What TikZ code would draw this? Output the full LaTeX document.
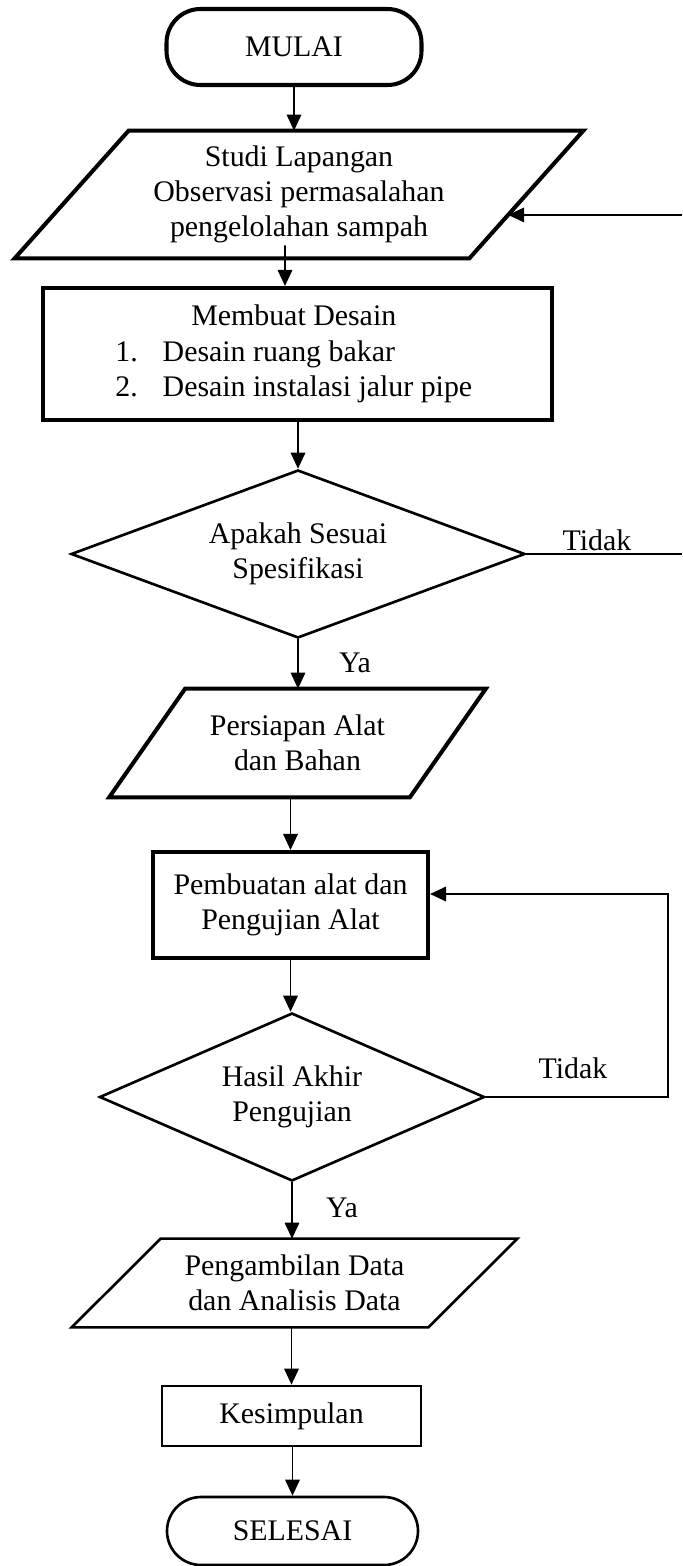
\documentclass[tikz,border=0pt]{standalone}
\usepackage{fontspec}
\setmainfont{Liberation Serif}
\usepackage{tikz}
\usetikzlibrary{shapes.geometric, arrows.meta, positioning, calc}
\tikzset{
  terminal/.style={rectangle, draw, rounded corners=0.68cm, align=center},
  process/.style={rectangle, draw, align=center},
  iotext/.style={rectangle, align=center},
  decision/.style={diamond, draw, line width=1.5pt, align=center, inner sep=1pt},
  thickline/.style={line width=2.3pt},
  thinline/.style={line width=1.5pt},
  lbl/.style={inner sep=1pt},
  arrow/.style={-{Triangle[length=0.32cm, width=0.29cm]}, line width=1pt},
  line/.style={draw, line width=1pt}
}

\begin{document}
\begin{tikzpicture}[font=\fontsize{17}{20}\selectfont]
  \useasboundingbox (0,0) rectangle (13.64,-31.32);

  % Nodes
  \node[terminal, thickline, minimum width=5.10cm, minimum height=1.52cm] (mulai) at (5.88,-0.94) {MULAI};

  \node[iotext, minimum width=9.08cm, minimum height=2.54cm] (studi) at (5.98,-3.89) {
    Studi Lapangan\\
    Observasi permasalahan\\
    pengelolahan sampah
  };

  \node[process, thickline, minimum width=10.18cm, minimum height=2.64cm] (desain) at (5.95,-7.08) {
    \begin{tabular}{@{}l@{\hspace{0.5cm}}l@{}}
      \multicolumn{2}{c}{Membuat Desain}\\
      1. & Desain ruang bakar\\
      2. & Desain instalasi jalur pipe
    \end{tabular}
  };

  \node[decision, aspect=2.7, minimum width=9.08cm, minimum height=3.36cm] (cek1) at (5.96,-11.08) {Apakah Sesuai\\Spesifikasi};

  \node[iotext, minimum width=6.00cm, minimum height=2.16cm] (persiapan) at (5.95,-14.86) {
    Persiapan Alat\\
    dan Bahan
  };

  \node[process, thickline, minimum width=5.50cm, minimum height=2.12cm] (pembuatan) at (5.81,-18.10) {
    Pembuatan alat dan\\
    Pengujian Alat
  };

  \node[decision, aspect=2.3, minimum width=7.70cm, minimum height=3.36cm] (cek2) at (5.84,-21.94) {Hasil Akhir\\Pengujian};

  \node[iotext, minimum width=7.12cm, minimum height=1.76cm] (pengambilan) at (5.89,-25.66) {
    Pengambilan Data\\
    dan Analisis Data
  };

  \node[process, thinline, minimum width=5.18cm, minimum height=1.20cm] (kesimpulan) at (5.83,-28.32) {Kesimpulan};

  \node[terminal, thinline, minimum width=5.02cm, minimum height=1.36cm] (selesai) at (5.85,-30.62) {SELESAI};

  % Parallelogram outlines
  \draw[thickline] ([xshift=-1.14cm]studi.south west) -- ([xshift=1.14cm]studi.north west) -- ([xshift=1.14cm]studi.north east) -- ([xshift=-1.14cm]studi.south east) -- cycle;
  \draw[thickline] ([xshift=-0.76cm]persiapan.south west) -- ([xshift=0.76cm]persiapan.north west) -- ([xshift=0.76cm]persiapan.north east) -- ([xshift=-0.76cm]persiapan.south east) -- cycle;
  \draw[thinline] ([xshift=-0.89cm]pengambilan.south west) -- ([xshift=0.89cm]pengambilan.north west) -- ([xshift=0.89cm]pengambilan.north east) -- ([xshift=-0.89cm]pengambilan.south east) -- cycle;

  % Labels
  \node[lbl] (tidak1) at (11.94,-10.80) {Tidak};
  \node[lbl] (ya1) at (7.10,-13.26) {Ya};
  \node[lbl] (tidak2) at (11.46,-21.36) {Tidak};
  \node[lbl] (ya2) at (6.84,-24.16) {Ya};

  % Main flow
  \draw[arrow] (mulai.south) -- (mulai.south |- studi.north);
  \draw[arrow] ([xshift=-0.28cm, yshift=0.26cm]studi.south) -- ([xshift=-0.25cm]desain.north);
  \draw[arrow] (cek1.north |- desain.south) -- (cek1.north);
  \draw[arrow] (cek1.south) -- (cek1.south |- persiapan.north);
  \draw[arrow] (pembuatan.north |- persiapan.south) -- (pembuatan.north);
  \draw[arrow] (pembuatan.south) -- (pembuatan.south |- cek2.north);
  \draw[arrow] (cek2.south) -- (cek2.south |- pengambilan.north);
  \draw[arrow] (kesimpulan.north |- pengambilan.south) -- (kesimpulan.north);
  \draw[arrow] (selesai.north |- kesimpulan.south) -- (selesai.north);

  % Back lines
  \coordinate (tepi) at (13.64,0);
  \coordinate (balik) at (13.36,-17.88);
  \coordinate (masuk) at ($([xshift=1.14cm]studi.north east)!0.66!([xshift=-1.14cm]studi.south east)$);
  \draw[line] (cek1.east) -- (cek1.east -| tepi);
  \draw[arrow] (masuk -| tepi) -- (masuk);
  \draw[arrow] (cek2.east) -| (balik) -- (balik -| pembuatan.east);
\end{tikzpicture}
\end{document}
